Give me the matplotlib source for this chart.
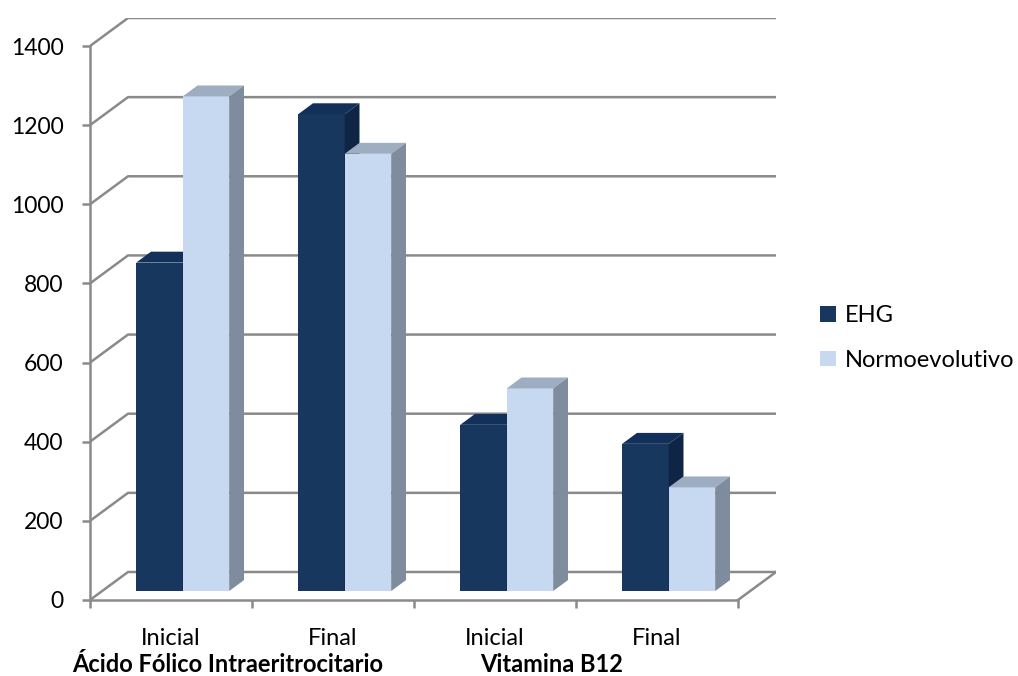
import numpy as np
import matplotlib.pyplot as plt
from matplotlib.patches import Polygon, Patch

plt.rcParams['font.family'] = ['Lato', 'DejaVu Sans']

# Valores por categoría
categorias = ['Inicial', 'Final', 'Inicial', 'Final']
grupos = ['Ácido Fólico Intraeritrocitario', 'Vitamina B12']
ehg = [830, 1205, 420, 372]
normo = [1250, 1105, 512, 262]
series = ['EHG', 'Normoevolutivo']
yticks = np.arange(0, 1401, 200)

# Colores (frente, tapa, lateral)
col_ehg = ('#17375e', '#13305a', '#0e2545')
col_normo = ('#c6d9f1', '#9eadc2', '#7e8c9e')
grid_col = '#8a8a8a'

# Desplazamiento de profundidad en unidades de datos
DX, DY = 0.2346, 70.8
d0, d1 = 0.32, 0.71
ancho = 0.287
margen = 0.21

fig = plt.figure(figsize=(10.18, 6.76), dpi=100)
ax = fig.add_axes([90 / 1018, 76 / 676, 686 / 1018, 582 / 676])
ax.set_xlim(0, 4 + DX)
ax.set_ylim(0, 1400 + DY)

# Paredes: líneas de cuadrícula en perspectiva
for v in yticks:
    ax.plot([0, DX, 4 + DX], [v, v + DY, v + DY], color=grid_col, lw=1.8,
            zorder=1, solid_capstyle='butt')
ax.plot([4, 4 + DX], [0, DY], color=grid_col, lw=1.8, zorder=1)


def barra(x0, v, cols):
    xl = x0 + d0 * DX
    xr = xl + ancho
    yb = d0 * DY
    yt = yb + v
    ddx = (d1 - d0) * DX
    ddy = (d1 - d0) * DY
    ax.add_patch(Polygon([(xl, yb), (xr, yb), (xr, yt), (xl, yt)],
                         closed=True, fc=cols[0], ec='none', zorder=3))
    ax.add_patch(Polygon([(xl, yt), (xr, yt), (xr + ddx, yt + ddy), (xl + ddx, yt + ddy)],
                         closed=True, fc=cols[1], ec='none', zorder=3))
    ax.add_patch(Polygon([(xr, yb), (xr, yt), (xr + ddx, yt + ddy), (xr + ddx, yb + ddy)],
                         closed=True, fc=cols[2], ec='none', zorder=3))


for i in range(len(categorias)):
    barra(i + margen, ehg[i], col_ehg)
    barra(i + margen + ancho, normo[i], col_normo)

# Ejes
for s in ['top', 'right']:
    ax.spines[s].set_visible(False)
for s in ['left', 'bottom']:
    ax.spines[s].set_color(grid_col)
    ax.spines[s].set_linewidth(1.8)
ax.spines['left'].set_bounds(0, 1400)
ax.spines['bottom'].set_bounds(0, 4)

ax.set_yticks(yticks)
ax.set_yticklabels([str(v) for v in yticks], fontsize=16.5)
ax.tick_params(axis='y', length=6, width=1.8, color=grid_col, pad=13)
ax.set_xticks(np.arange(0, 5))
ax.set_xticklabels([])
ax.tick_params(axis='x', which='major', length=6, width=1.8, color=grid_col)
ax.set_xticks(np.arange(4) + 0.5, minor=True)
ax.set_xticklabels(categorias, minor=True, fontsize=17)
ax.tick_params(axis='x', which='minor', length=0, pad=20)

# Etiquetas de grupo
for j, g in enumerate(grupos):
    ax.text(2 * j + 0.85, -162, g, ha='center', va='center',
            fontsize=17, fontweight='bold')

# Leyenda
handles = [Patch(fc=col_ehg[0]), Patch(fc=col_normo[0])]
fig.legend(handles, series, loc='center left', bbox_to_anchor=(0.785, 0.5),
           frameon=False, fontsize=17, handlelength=0.65, handleheight=0.65,
           handletextpad=0.4, labelspacing=1.0)

fig.savefig('out.png', dpi=100)
